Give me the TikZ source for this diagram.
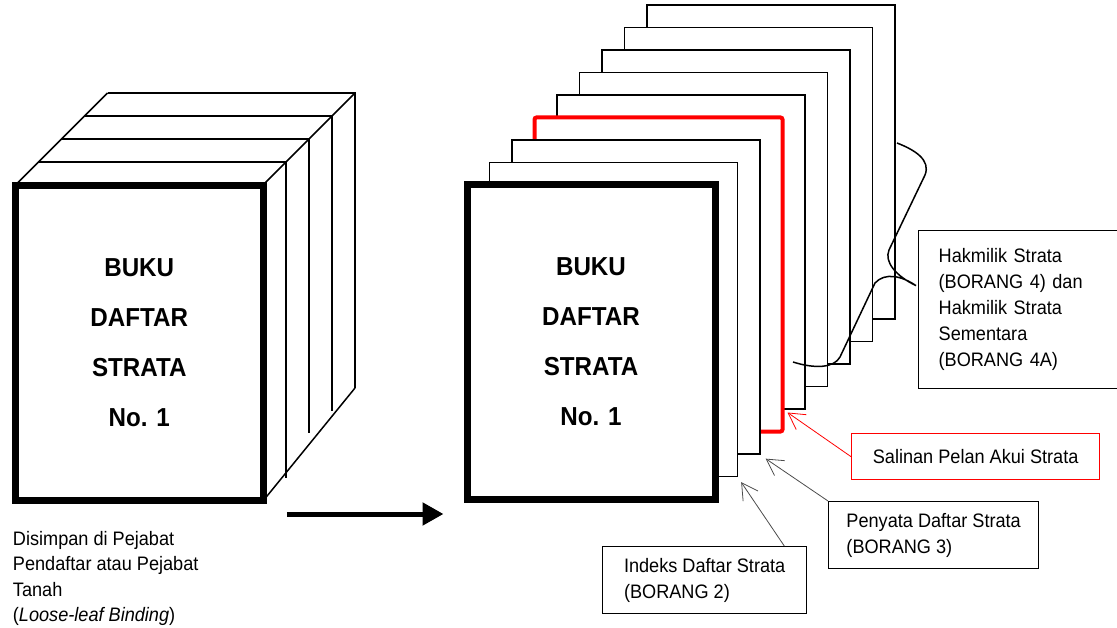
\documentclass[tikz,border=0pt]{standalone}
\usepackage{fontspec}
\setmainfont{Liberation Sans}[FakeStretch=0.93]
\usetikzlibrary{arrows.meta,positioning,calc}

\begin{document}
\begin{tikzpicture}[
    x=1pt, y=-1pt,
    cover/.style={draw, line width=7pt, fill=white, inner sep=0pt,
                  minimum width=248pt, minimum height=315pt, align=center,
                  font=\fontsize{26}{50}\selectfont\bfseries},
    leaf/.style={draw, line width=1.3pt, fill=white, inner sep=0pt,
                 minimum width=248pt, minimum height=314pt},
    redleaf/.style={leaf, draw=red, line width=4pt, rounded corners=2pt},
    lbl/.style={draw, line width=1.3pt, fill=white, align=left, inner sep=0pt,
                font=\fontsize{19.5}{26}\selectfont},
    pointer/.style={-{Straight Barb[length=16pt,width=18pt]}, line width=0.8pt,
                    draw=black!70},
    side/.style={line width=1.5pt}
]
    \useasboundingbox (0,0) rectangle (1117,628);

    % Binder: top and side strips
    \draw[side] (15.5,185) -- (107.5,93);
    \draw[side] (263,185) -- (355,93);
    \draw[side] (263,501) -- (355,388);
    \foreach \k/\b in {1/478, 2/433, 3/411, 4/388}
        \draw[side] (15.5+23*\k, 185-23*\k) -- (263+23*\k, 185-23*\k) -- (263+23*\k, \b);
    \node[cover] (L) at (139.25,343) {BUKU\\DAFTAR\\STRATA\\No. 1};
    \node[font=\fontsize{19.5}{25.5}\selectfont, align=left, inner sep=0pt,
          anchor=north west] (keep) at ($(L.south west)+(1,27)$)
        {Disimpan di Pejabat\\Pendaftar atau Pejabat\\Tanah\\(\textit{Loose-leaf Binding})};

    % Loose leaves, back to front
    \foreach \i in {8,...,4}
        \node[leaf] (p\i) at (591+22.5*\i, 342-22.5*\i) {};
    \node[redleaf] (p3) at (658.5,274.5) {};
    \foreach \i in {2,1}
        \node[leaf] (p\i) at (591+22.5*\i, 342-22.5*\i) {};
    \node[cover] (R) at (591,342) {BUKU\\DAFTAR\\STRATA\\No. 1};

    \draw[line width=5pt, -{Triangle[length=21pt,width=22pt]}]
        ($(L.south east)+(20,10)$) -- ($(R.south west)+(-20,11)$);

    % Labels
    \node[lbl, minimum width=204pt, minimum height=67pt, anchor=north west]
        (indeks) at (602,546) {Indeks Daftar Strata\\(BORANG 2)};
    \node[lbl, minimum width=210pt, minimum height=67pt, anchor=north west]
        (penyata) at (828,501) {Penyata Daftar Strata\\(BORANG 3)};
    \node[lbl, draw=red, minimum width=248pt, minimum height=46pt, anchor=north west]
        (salinan) at (851,433) {Salinan Pelan Akui Strata};
    \node[lbl, text width=180pt, inner xsep=20pt, minimum height=158pt, anchor=north west]
        (hak) at (918,230)
        {Hakmilik Strata\\(BORANG 4) dan\\Hakmilik Strata\\Sementara\\(BORANG 4A)};

    \draw[pointer] ($(indeks.north west)!0.888!(indeks.north east)$)
        -- ($(p1.south east)+(3,5)$);
    \draw[pointer] (penyata.north west) -- ($(p2.south east)+(5,4)$);
    \draw[pointer, draw=red] (salinan.west) -- ($(p3.south east)+(3,-21)$);

    % Brace to the title boxes
    \coordinate (btip) at ($(hak.west)+(-2,-24)$);
    \draw[side] (897,143) .. controls (915,150) and (931,160) .. (925,175)
        -- (889,250) .. controls (884,262) and (896,276) .. (btip)
        .. controls (902,276) and (885,272) .. (875,283)
        -- (840,357) .. controls (834,368) and (815,369) .. (793,362);
\end{tikzpicture}
\end{document}
